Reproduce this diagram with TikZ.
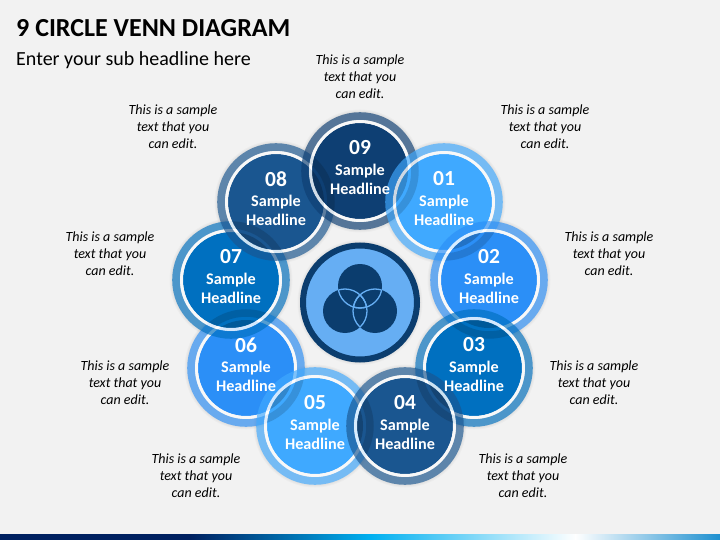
\documentclass[tikz,border=0pt]{standalone}
\usepackage{fontspec}
\setmainfont{Carlito}
\definecolor{pageBg}{HTML}{F2F2F2}
\definecolor{cA}{HTML}{3FA9FF}
\definecolor{cB}{HTML}{2B8FF7}
\definecolor{cC}{HTML}{0070C0}
\definecolor{cD}{HTML}{1A5690}
\definecolor{cE}{HTML}{0E3F73}
\definecolor{hubRing}{HTML}{0B3D6E}
\definecolor{hubFill}{HTML}{66AEF3}
\definecolor{barA}{HTML}{002060}
\definecolor{barB}{HTML}{00B0F0}
\definecolor{barD}{HTML}{1E90D0}
\tikzset{
  note/.style={font=\fontsize{14}{17}\selectfont\itshape,align=center,text=black,inner sep=0pt},
  numtext/.style={font=\fontsize{21.5}{21.5}\selectfont\bfseries,text=white,inner sep=0pt},
  headtext/.style={font=\fontsize{16.2}{19}\selectfont\bfseries,text=white,align=center,inner sep=0pt},
}
% glow beneath a disc
\newcommand{\DiscGlow}[1]{%
  \foreach \rr in {59.5,60.5,61.5}{\fill[black,opacity=.022] (#1) circle[radius=\rr pt];}}
% disc body: opaque fill
\newcommand{\DiscBody}[2]{\fill[#2] (#1) circle[radius=48pt];}
% where the disc #1 lies on the earlier disc #2
\newcommand{\DiscLens}[2]{%
  \begin{scope}\clip (#2) circle[radius=48pt];
    \fill[black,opacity=.2] (#1) circle[radius=48pt];
  \end{scope}
  \begin{scope}\clip (#1) circle[radius=48pt];
    \draw[black,opacity=.14,line width=7.5pt] (#2) circle[radius=55pt];
  \end{scope}}
% rings of disc
\newcommand{\DiscRings}[2]{%
  \draw[white,opacity=.8,line width=3.2pt] (#1) circle[radius=49.6pt];
  \draw[#2,opacity=.66,line width=7.6pt] (#1) circle[radius=55pt];}
% text of disc
\newcommand{\DiscText}[3]{%
  \node[numtext] (n#2) at ([yshift=23pt]#1) {#3};
  \node[headtext,anchor=center] (h#2) at ([yshift=-8pt]#1) {Sample\\Headline};}
\begin{document}
\begin{tikzpicture}[x=1pt,y=-1pt]
\useasboundingbox (0,0) rectangle (720,540);
\fill[pageBg] (0,0) rectangle (720,540);
\fill[barA] (0,534) rectangle (191,540);
\shade[left color=barA,right color=barB,middle color=barA!50!barB] (190,534) rectangle (371,540);
\shade[left color=barB,right color=white,middle color=barB!50!white] (370,534) rectangle (576,540);
\shade[left color=white,right color=barD,middle color=white!50!barD] (575,534) rectangle (720,540);

\node[font=\fontsize{26}{30}\selectfont\bfseries,anchor=west,inner sep=0pt] (title) at (16,28.5) {9 CIRCLE VENN DIAGRAM};
\node[font=\fontsize{20}{24}\selectfont,anchor=west,inner sep=0pt] (sub) at (16,60) {Enter your sub headline here};

\coordinate (c1) at (444,202);
\coordinate (c2) at (489,280);
\coordinate (c3) at (474,368);
\coordinate (c4) at (405,426);
\coordinate (c5) at (315,426);
\coordinate (c6) at (246,368);
\coordinate (c7) at (231,280);
\coordinate (c8) at (276,202);
\coordinate (c9) at (360,171);
\coordinate (hub) at (360,302.5);

\foreach \cc in {c1,c2,c3,c4,c5,c6,c7,c8,c9}{\DiscGlow{\cc}}

\DiscBody{c6}{cB}
\DiscRings{c6}{cB}
\DiscBody{c7}{cC}\DiscLens{c7}{c6}
\DiscRings{c7}{cC}
\DiscBody{c8}{cD}\DiscLens{c8}{c7}
\DiscRings{c8}{cD}
\DiscBody{c9}{cE}\DiscLens{c9}{c8}
\DiscRings{c9}{cE}
\DiscBody{c1}{cA}\DiscLens{c1}{c9}
\DiscRings{c1}{cA}
\DiscBody{c2}{cB}\DiscLens{c2}{c1}
\DiscRings{c2}{cB}
\DiscBody{c3}{cC}\DiscLens{c3}{c2}
\DiscRings{c3}{cC}
\DiscBody{c5}{cA}\DiscLens{c5}{c6}
\DiscRings{c5}{cA}
\DiscBody{c4}{cD}\DiscLens{c4}{c5}\DiscLens{c4}{c3}
\DiscRings{c4}{cD}

\DiscText{c1}{1}{01}
\DiscText{c2}{2}{02}
\DiscText{c3}{3}{03}
\DiscText{c4}{4}{04}
\DiscText{c5}{5}{05}
\DiscText{c6}{6}{06}
\DiscText{c7}{7}{07}
\DiscText{c8}{8}{08}
\DiscText{c9}{9}{09}

% hub
\foreach \rr in {60.5,61.5,62.5}{\fill[black,opacity=.022] (hub) circle[radius=\rr pt];}
\fill[hubFill] (hub) circle[radius=58pt];
\draw[hubRing,line width=6pt] (hub) circle[radius=57pt];
\coordinate (va) at (360,286);
\coordinate (vb) at (345,311);
\coordinate (vc) at (375,311);
\fill[hubRing] (va) circle[radius=22pt] (vb) circle[radius=22pt] (vc) circle[radius=22pt];
\begin{scope}\clip (va) circle[radius=22pt];
  \draw[hubFill,line width=1.3pt] (vb) circle[radius=22pt] (vc) circle[radius=22pt];
\end{scope}
\begin{scope}\clip (vb) circle[radius=22pt];
  \draw[hubFill,line width=1.3pt] (va) circle[radius=22pt] (vc) circle[radius=22pt];
\end{scope}
\begin{scope}\clip (vc) circle[radius=22pt];
  \draw[hubFill,line width=1.3pt] (va) circle[radius=22pt] (vb) circle[radius=22pt];
\end{scope}

\node[note] (t9) at (360,76.5) {This is a sample\\text that you\\can edit.};
\node[note] (t1) at (545,126.5) {This is a sample\\text that you\\can edit.};
\node[note] (t2) at (609,253.5) {This is a sample\\text that you\\can edit.};
\node[note] (t3) at (594,382.5) {This is a sample\\text that you\\can edit.};
\node[note] (t4) at (523,475.5) {This is a sample\\text that you\\can edit.};
\node[note] (t5) at (196,475.5) {This is a sample\\text that you\\can edit.};
\node[note] (t6) at (125,382.5) {This is a sample\\text that you\\can edit.};
\node[note] (t7) at (110,253.5) {This is a sample\\text that you\\can edit.};
\node[note] (t8) at (173,126.5) {This is a sample\\text that you\\can edit.};
\end{tikzpicture}
\end{document}
